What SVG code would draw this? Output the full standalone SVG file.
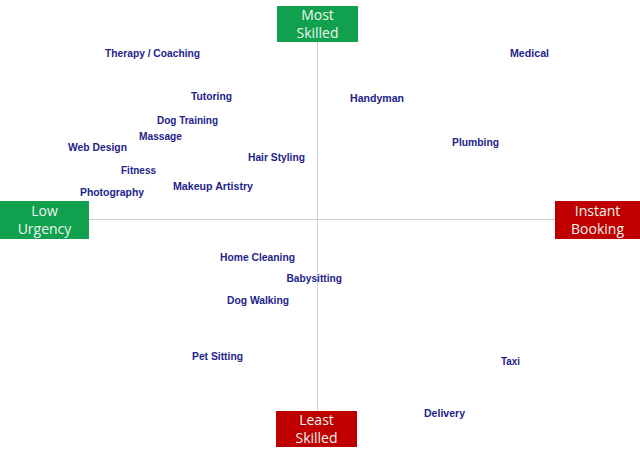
<svg xmlns="http://www.w3.org/2000/svg" width="640" height="457" viewBox="0 0 640 457">
<style>
.axis{stroke:#cfcfd4;stroke-width:1;fill:none}
.box-g{fill:#10a04e}
.box-r{fill:#c00000}
.bt{font-family:"Open Sans","Liberation Sans",sans-serif;font-size:14px;fill:#eef6ee;text-anchor:middle}
.lbl{font-family:"Liberation Sans",Arial,sans-serif;font-weight:bold;font-size:11.5px;fill:#23238c}
</style>
<rect width="640" height="457" fill="#ffffff"/>
<g id="axes">
<line class="axis" x1="317.5" y1="42" x2="317.5" y2="411"/>
<line class="axis" x1="89" y1="219.5" x2="555" y2="219.5"/>
</g>
<g id="most-skilled">
<rect class="box-g" x="277" y="6" width="81" height="36"/>
<text class="bt" x="317.5" y="20">Most</text>
<text class="bt" x="317.5" y="38">Skilled</text>
</g>
<g id="low-urgency">
<rect class="box-g" x="0" y="201" width="89" height="38"/>
<text class="bt" x="44.5" y="216">Low</text>
<text class="bt" x="44.5" y="234">Urgency</text>
</g>
<g id="instant-booking">
<rect class="box-r" x="555" y="201" width="85" height="38"/>
<text class="bt" x="597.5" y="216">Instant</text>
<text class="bt" x="597.5" y="234">Booking</text>
</g>
<g id="least-skilled">
<rect class="box-r" x="276" y="411" width="81" height="36"/>
<text class="bt" x="316.5" y="425">Least</text>
<text class="bt" x="316.5" y="443">Skilled</text>
</g>
<g id="labels">
<text class="lbl" x="105" y="57" textLength="95" lengthAdjust="spacingAndGlyphs">Therapy / Coaching</text>
<text class="lbl" x="191" y="99.5" textLength="41" lengthAdjust="spacingAndGlyphs">Tutoring</text>
<text class="lbl" x="157" y="124" textLength="61" lengthAdjust="spacingAndGlyphs">Dog Training</text>
<text class="lbl" x="139" y="140" textLength="43" lengthAdjust="spacingAndGlyphs">Massage</text>
<text class="lbl" x="68" y="151" textLength="59" lengthAdjust="spacingAndGlyphs">Web Design</text>
<text class="lbl" x="248" y="161" textLength="57" lengthAdjust="spacingAndGlyphs">Hair Styling</text>
<text class="lbl" x="121" y="174" textLength="35" lengthAdjust="spacingAndGlyphs">Fitness</text>
<text class="lbl" x="173" y="190" textLength="80" lengthAdjust="spacingAndGlyphs">Makeup Artistry</text>
<text class="lbl" x="80" y="196" textLength="64" lengthAdjust="spacingAndGlyphs">Photography</text>
<text class="lbl" x="510" y="56.5" textLength="39" lengthAdjust="spacingAndGlyphs">Medical</text>
<text class="lbl" x="350" y="101.5" textLength="54" lengthAdjust="spacingAndGlyphs">Handyman</text>
<text class="lbl" x="452" y="146" textLength="47" lengthAdjust="spacingAndGlyphs">Plumbing</text>
<text class="lbl" x="220" y="261" textLength="75" lengthAdjust="spacingAndGlyphs">Home Cleaning</text>
<text class="lbl" x="286.5" y="282" textLength="55.5" lengthAdjust="spacingAndGlyphs">Babysitting</text>
<text class="lbl" x="227" y="304" textLength="62" lengthAdjust="spacingAndGlyphs">Dog Walking</text>
<text class="lbl" x="192" y="359.5" textLength="51" lengthAdjust="spacingAndGlyphs">Pet Sitting</text>
<text class="lbl" x="501" y="365" textLength="19" lengthAdjust="spacingAndGlyphs">Taxi</text>
<text class="lbl" x="424" y="416.5" textLength="41" lengthAdjust="spacingAndGlyphs">Delivery</text>
</g>
</svg>
